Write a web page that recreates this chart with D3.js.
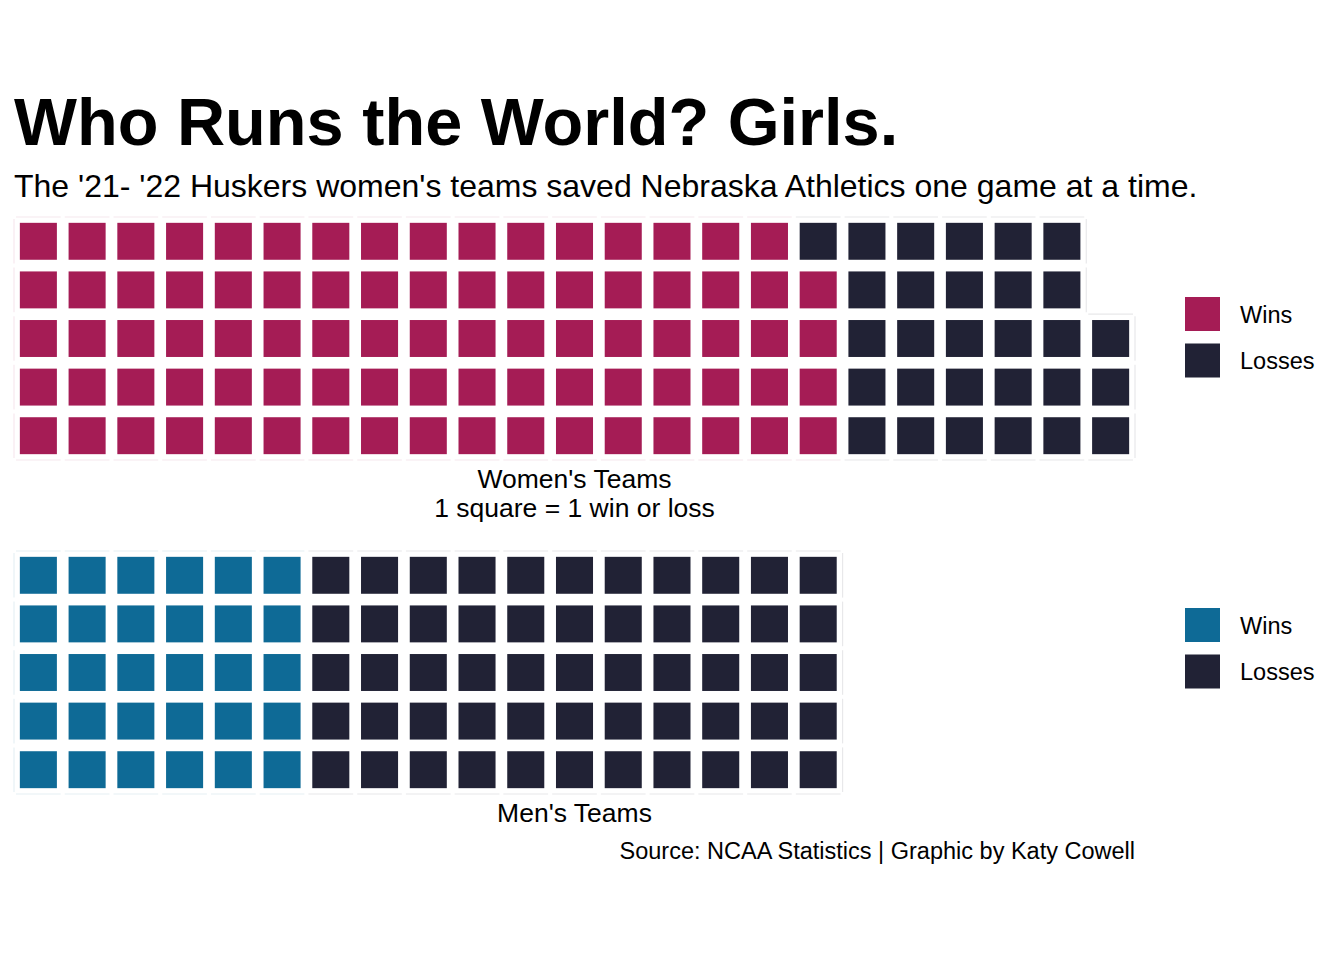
<!DOCTYPE html>
<html><head><meta charset="utf-8">
<script src="https://cdn.jsdelivr.net/npm/d3@7"></script>
<style>body{margin:0;background:#fff}svg{display:block}text{font-family:"Liberation Sans",Arial,sans-serif}</style>
</head><body><svg id="c" width="1344" height="960"></svg>
<script>
const categories = ["Wins", "Losses"];
const womenValues = [84, 29];
const menValues = [30, 55];
const womenColors = ["#A51C55", "#212235"];
const menColors = ["#0E6A96", "#212235"];
const rowsPerColumn = 5;
const totalColumns = 23;

const svg = d3.select("#c");
svg.append("rect").attr("width",1344).attr("height",960).attr("fill","#fff");

svg.append("text").attr("x",14).attr("y",145).attr("font-size",66.7).attr("font-weight","bold").attr("fill","#000")
  .text("Who Runs the World? Girls.");
svg.append("text").attr("x",14).attr("y",197).attr("font-size",32).attr("fill","#000")
  .text("The '21- '22 Huskers women's teams saved Nebraska Athletics one game at a time.");

const x = d3.scaleBand().domain(d3.range(totalColumns)).range([14,1135]).paddingInner(0.24).paddingOuter(0.12);

function tiles(values){
  const out=[]; let i=0;
  values.forEach((v,k)=>{ for(let j=0;j<v;j++){ out.push({col:Math.floor(i/rowsPerColumn), row:i%rowsPerColumn, cat:k}); i++; } });
  return out;
}

function waffle(values, colors, top, bottom, label, legendY){
  const y = d3.scaleBand().domain(d3.range(rowsPerColumn)).range([bottom, top]).paddingInner(0.24).paddingOuter(0.12);
  const data = tiles(values);
  const key = d => d.col+"_"+d.row;
  const set = new Set(data.map(key));
  const step = x.step(), ystep = y.step();
  const g = svg.append("g");
  data.forEach(d=>{
    const cx = x(d.col) + x.bandwidth()/2, cy = y(d.row) + y.bandwidth()/2;
    const x0 = cx-step/2, x1 = cx+step/2, y0 = cy-ystep/2, y1 = cy+ystep/2;
    const segs=[];
    if(!set.has(d.col+"_"+(d.row+1))) segs.push([x0+2,y0,x1-2,y0]);
    if(!set.has(d.col+"_"+(d.row-1))) segs.push([x0+2,y1,x1-2,y1]);
    if(!set.has((d.col-1)+"_"+d.row)) segs.push([x0,y0+2,x0,y1-2]);
    if(!set.has((d.col+1)+"_"+d.row)) segs.push([x1,y0+2,x1,y1-2]);
    segs.forEach(s=>g.append("line").attr("x1",s[0]).attr("y1",s[1]).attr("x2",s[2]).attr("y2",s[3])
      .attr("stroke",colors[d.cat]).attr("stroke-opacity",0.1).attr("stroke-width",1.2));
  });
  g.selectAll("rect.t").data(data).join("rect").attr("class","t")
    .attr("x",d=>x(d.col)).attr("y",d=>y(d.row))
    .attr("width",x.bandwidth()).attr("height",y.bandwidth())
    .attr("fill",d=>colors[d.cat]);
  const cxp = (x.range()[0]+x.range()[1])/2;
  label.forEach((t,i)=>svg.append("text").attr("x",cxp).attr("y",bottom+28+i*29).attr("text-anchor","middle")
    .attr("font-size",26.5).attr("fill","#000").text(t));
  const lg = svg.append("g");
  categories.forEach((c,i)=>{
    lg.append("rect").attr("x",1185).attr("y",legendY+i*46.5).attr("width",35).attr("height",34).attr("fill",colors[i]);
    lg.append("text").attr("x",1240).attr("y",legendY+i*46.5+25.5).attr("font-size",23.5).attr("fill","#000").text(c);
  });
}

waffle(womenValues, womenColors, 217, 460, ["Women's Teams","1 square = 1 win or loss"], 297);
waffle(menValues, menColors, 551, 794, ["Men's Teams"], 608);

svg.append("text").attr("x",1135).attr("y",859).attr("text-anchor","end").attr("font-size",23.5).attr("fill","#000")
  .text("Source: NCAA Statistics | Graphic by Katy Cowell");
</script></body></html>
